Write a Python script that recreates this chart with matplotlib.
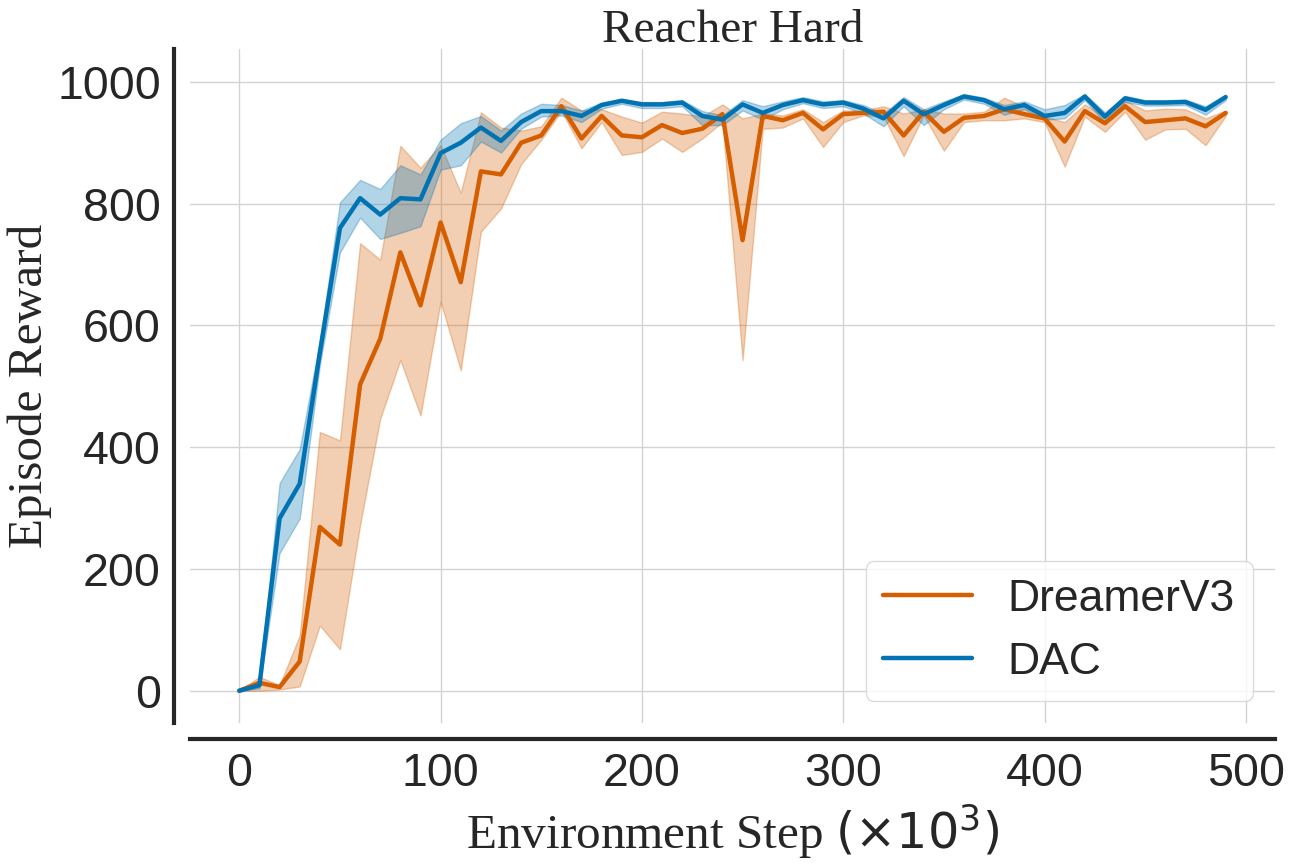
import numpy as np
import matplotlib
matplotlib.use('Agg')
import matplotlib.pyplot as plt
import seaborn as sns

# environment steps (x10^3)
steps = np.arange(0, 500, 10)

dreamer_mean = [0, 13, 6, 48, 269, 240, 503, 578, 720, 633,
                769, 671, 853, 848, 900, 912, 960, 907, 944, 912,
                909, 929, 916, 923, 947, 740, 944, 937, 949, 922,
                947, 949, 951, 912, 951, 918, 941, 944, 955, 947,
                940, 902, 952, 932, 960, 934, 937, 940, 927, 949]
dreamer_upper = [0, 23, 9, 91, 425, 411, 735, 708, 895, 859,
                 896, 818, 950, 925, 920, 927, 974, 953, 955, 943,
                 933, 951, 948, 943, 963, 940, 948, 945, 955, 934,
                 953, 953, 960, 948, 955, 948, 948, 951, 974, 959,
                 943, 934, 963, 943, 969, 953, 956, 955, 940, 953]
dreamer_lower = [0, 0, 2, 7, 107, 68, 272, 447, 543, 452,
                 639, 526, 754, 792, 865, 905, 952, 891, 934, 880,
                 885, 907, 885, 907, 934, 543, 923, 925, 940, 893,
                 934, 945, 943, 878, 945, 887, 934, 937, 937, 940,
                 934, 861, 943, 918, 951, 905, 922, 923, 896, 944]

dac_mean = [0, 9, 283, 340, 555, 760, 809, 782, 809, 807,
            883, 900, 925, 903, 934, 952, 952, 944, 962, 969,
            963, 963, 966, 944, 938, 963, 949, 962, 970, 963,
            966, 956, 940, 969, 947, 962, 976, 970, 955, 962,
            944, 949, 976, 943, 973, 966, 966, 967, 954, 975]
dac_upper = [0, 14, 341, 397, 575, 802, 839, 824, 863, 848,
             905, 932, 944, 920, 948, 964, 962, 953, 966, 972,
             967, 967, 970, 952, 945, 970, 960, 968, 975, 968,
             970, 962, 948, 975, 955, 968, 980, 974, 962, 968,
             955, 962, 980, 950, 977, 970, 970, 971, 960, 979]
dac_lower = [0, 4, 226, 283, 535, 720, 777, 742, 752, 763,
             856, 863, 902, 884, 923, 943, 945, 934, 956, 964,
             957, 957, 960, 929, 929, 953, 938, 955, 965, 957,
             960, 948, 927, 960, 929, 955, 971, 964, 946, 955,
             938, 940, 970, 933, 967, 961, 961, 962, 946, 970]

sns.set_theme(style='whitegrid')
plt.rcParams['font.family'] = ['Liberation Sans', 'DejaVu Sans']
plt.rcParams['mathtext.fontset'] = 'dejavusans'

fig = plt.figure(figsize=(12.96, 8.64), dpi=100)
ax = fig.add_axes([0.1466, 0.1632, 0.8372, 0.7801])

orange = '#d55e00'
blue = '#0173b2'

ax.plot(steps, dreamer_mean, color=orange, lw=3.2, label='DreamerV3')
ax.fill_between(steps, dreamer_lower, dreamer_upper, color=orange, alpha=0.3, lw=1)
ax.plot(steps, dac_mean, color=blue, lw=3.2, label='DAC')
ax.fill_between(steps, dac_lower, dac_upper, color=blue, alpha=0.3, lw=1)

ax.set_xlim(-24.5, 514.5)
ax.set_ylim(-53, 1054)
ax.set_xticks([0, 100, 200, 300, 400, 500])
ax.set_yticks([0, 200, 400, 600, 800, 1000])
ax.tick_params(labelsize=33.5, colors='#262626')
ax.grid(color='#d3d3d3', lw=1)

serif = ['Liberation Serif', 'DejaVu Serif']
ax.set_title('Reacher Hard', fontsize=34, family=serif, color='#262626', pad=5)
ax.set_xlabel(r'Environment Step $(\times 10^3)$', fontsize=35.5, family=serif, color='#262626')
ax.set_ylabel('Episode Reward', fontsize=35.5, family=serif, color='#262626')

sns.despine(ax=ax, offset=11.5)
for side in ['left', 'bottom']:
    ax.spines[side].set_linewidth(3)
    ax.spines[side].set_color('#262626')

ax.legend(loc='lower right', fontsize=32, frameon=True, edgecolor='#d3d3d3')

fig.savefig('out.png', dpi=100)
plt.close(fig)
